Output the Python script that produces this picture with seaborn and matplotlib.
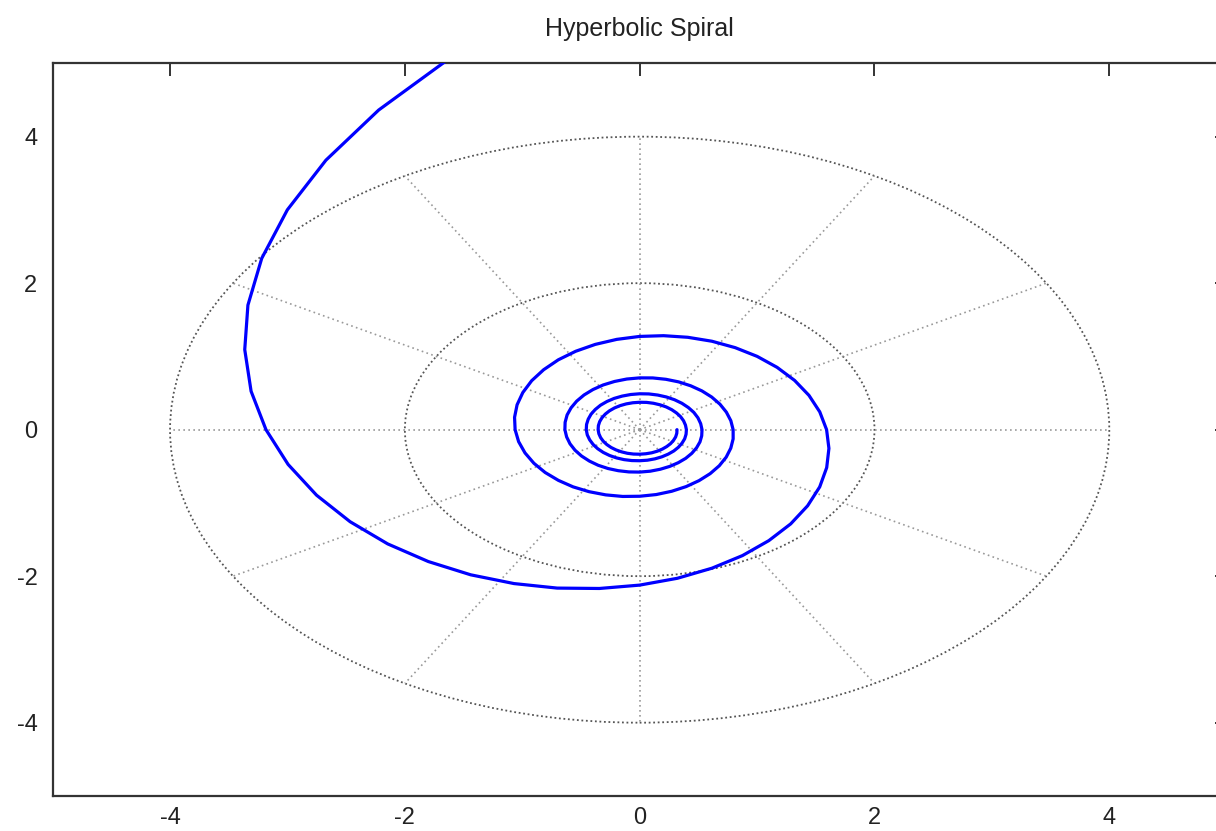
import numpy as np
import matplotlib
matplotlib.use("Agg")
import matplotlib.pyplot as plt
import seaborn as sns
from matplotlib.patches import Circle

# Hyperbolic spiral (angle in degrees, radius)
angles_deg = [
    90, 99, 108, 117, 126, 135, 144, 153, 162, 171,
    180, 189, 198, 207, 216, 225, 234, 243, 252, 261,
    270, 279, 288, 297, 306, 315, 324, 333, 342, 351,
    360, 369, 378, 387, 396, 405, 414, 423, 432, 441,
    450, 459, 468, 477, 486, 495, 504, 513, 522, 531,
    540, 549, 558, 567, 576, 585, 594, 603, 612, 621,
    630, 639, 648, 657, 666, 675, 684, 693, 702, 711,
    720, 729, 738, 747, 756, 765, 774, 783, 792, 801,
    810, 819, 828, 837, 846, 855, 864, 873, 882, 891,
    900, 909, 918, 927, 936, 945, 954, 963, 972, 981,
    990, 999, 1008, 1017, 1026, 1035, 1044, 1053, 1062, 1071,
    1080, 1089, 1098, 1107, 1116, 1125, 1134, 1143, 1152, 1161,
    1170, 1179, 1188, 1197, 1206, 1215, 1224, 1233, 1242, 1251,
    1260, 1269, 1278, 1287, 1296, 1305, 1314, 1323, 1332, 1341,
    1350, 1359, 1368, 1377, 1386, 1395, 1404, 1413, 1422, 1431,
    1440, 1449, 1458, 1467, 1476, 1485, 1494, 1503, 1512, 1521,
    1530, 1539, 1548, 1557, 1566, 1575, 1584, 1593, 1602, 1611,
    1620, 1629, 1638, 1647, 1656, 1665, 1674, 1683, 1692, 1701,
    1710, 1719, 1728, 1737, 1746, 1755, 1764, 1773, 1782, 1791,
    1800,
]
radii = [
    6.366, 5.787, 5.305, 4.897, 4.547, 4.244, 3.979, 3.745, 3.537, 3.351,
    3.183, 3.032, 2.894, 2.768, 2.653, 2.546, 2.449, 2.358, 2.274, 2.195,
    2.122, 2.054, 1.989, 1.929, 1.872, 1.819, 1.768, 1.721, 1.675, 1.632,
    1.592, 1.553, 1.516, 1.481, 1.447, 1.415, 1.384, 1.355, 1.326, 1.299,
    1.273, 1.248, 1.224, 1.201, 1.179, 1.157, 1.137, 1.117, 1.098, 1.079,
    1.061, 1.044, 1.027, 1.011, 0.995, 0.979, 0.965, 0.950, 0.936, 0.923,
    0.909, 0.897, 0.884, 0.872, 0.860, 0.849, 0.838, 0.827, 0.816, 0.806,
    0.796, 0.786, 0.776, 0.767, 0.758, 0.749, 0.740, 0.732, 0.723, 0.715,
    0.707, 0.700, 0.692, 0.685, 0.677, 0.670, 0.663, 0.656, 0.650, 0.643,
    0.637, 0.630, 0.624, 0.618, 0.612, 0.606, 0.601, 0.595, 0.589, 0.584,
    0.579, 0.574, 0.568, 0.563, 0.558, 0.554, 0.549, 0.544, 0.540, 0.535,
    0.531, 0.526, 0.522, 0.518, 0.513, 0.509, 0.505, 0.501, 0.497, 0.494,
    0.490, 0.486, 0.482, 0.479, 0.475, 0.472, 0.468, 0.465, 0.461, 0.458,
    0.455, 0.452, 0.448, 0.445, 0.442, 0.439, 0.436, 0.433, 0.430, 0.427,
    0.424, 0.422, 0.419, 0.416, 0.413, 0.411, 0.408, 0.405, 0.403, 0.400,
    0.398, 0.395, 0.393, 0.391, 0.388, 0.386, 0.384, 0.381, 0.379, 0.377,
    0.374, 0.372, 0.370, 0.368, 0.366, 0.364, 0.362, 0.360, 0.358, 0.356,
    0.354, 0.352, 0.350, 0.348, 0.346, 0.344, 0.342, 0.340, 0.339, 0.337,
    0.335, 0.333, 0.332, 0.330, 0.328, 0.326, 0.325, 0.323, 0.322, 0.320,
    0.318,
]

# polar grid
grid_radii = [2, 4]
spoke_angles = [0, 30, 60, 90, 120, 150, 180, 210, 240, 270, 300, 330]
spoke_length = 4

x_ticks = [-4, -2, 0, 2, 4]
y_ticks = [-4, -2, 0, 2, 4]

sns.set_theme(style="white")
plt.rcParams['font.family'] = ['Liberation Sans', 'DejaVu Sans']

fig = plt.figure(figsize=(12.16, 8.31), dpi=100)
ax = fig.add_axes([0.0433, 0.0422, 0.9655, 0.8815])

# grid circles and spokes
for r in grid_radii:
    ax.add_patch(Circle((0, 0), r, fill=False, edgecolor='#555555',
                        linewidth=1.3, linestyle=(0, (1, 1.5)), zorder=1))
for a in spoke_angles:
    t = np.deg2rad(a)
    ax.plot([0, spoke_length * np.cos(t)], [0, spoke_length * np.sin(t)],
            color='#999999', linewidth=1.2, linestyle=(0, (1, 2)), zorder=1)

theta = np.deg2rad(np.array(angles_deg, dtype=float))
r = np.array(radii)
sns.lineplot(x=r * np.cos(theta), y=r * np.sin(theta), sort=False,
             estimator=None, color='#0000ff', linewidth=2.3, ax=ax, zorder=3)

ax.set_xlim(-5, 5)
ax.set_ylim(-5, 5)
ax.set_xticks(x_ticks)
ax.set_yticks(y_ticks)
ax.set_xticklabels([str(v) for v in x_ticks])
ax.set_yticklabels([str(v) for v in y_ticks])
ax.tick_params(direction='in', length=9, width=1.4, color='#333333',
               top=True, right=True, labelsize=17, pad=11, labelcolor='#222222')
ax.tick_params(axis='x', pad=8)
for s in ax.spines.values():
    s.set_color('#333333')
    s.set_linewidth(1.6)

ax.set_title('Hyperbolic Spiral', fontsize=18, color='#222222', pad=20)

fig.savefig('out.png', dpi=100)
